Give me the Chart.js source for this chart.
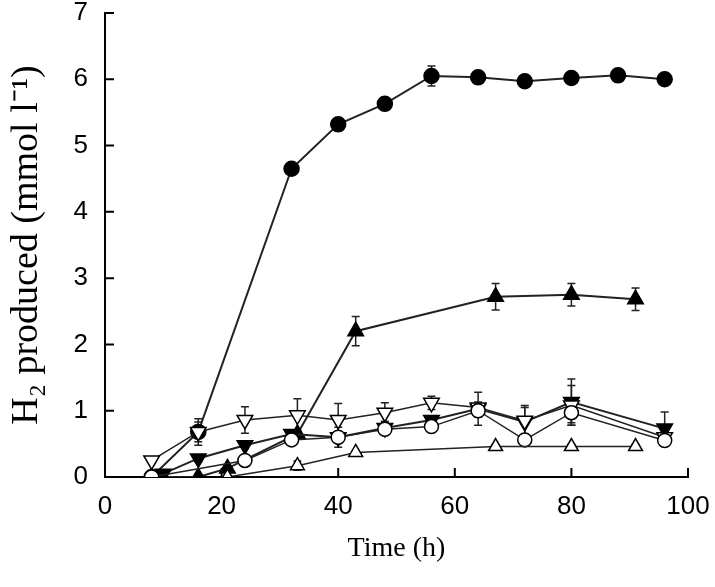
<!DOCTYPE html>
<html>
<head>
<meta charset="utf-8">
<script src="https://cdn.jsdelivr.net/npm/chart.js@4"></script>
<style>
  body { margin: 0; background: #fff; }
  #wrap { width: 715px; height: 587px; position: relative; }
</style>
</head>
<body>
<div id="wrap"><canvas id="h2Chart"></canvas></div>
<script>
// filled circles
var tCircle = [8, 16, 32, 40, 48, 56, 64, 72, 80, 88, 96];
var yCircle = [0, 0.68, 4.65, 5.32, 5.63, 6.05, 6.03, 5.97, 6.02, 6.06, 6.0];
var eCircle = [0, 0.15, 0.06, 0.06, 0.07, 0.15, 0.08, 0.05, 0.06, 0.1, 0.04];

// filled up triangles
var tTriUp = [8, 16, 21, 33, 43, 67, 80, 91];
var yTriUp = [0, 0, 0.13, 0.65, 2.2, 2.72, 2.75, 2.68];
var eTriUp = [0, 0, 0.03, 0.05, 0.22, 0.2, 0.17, 0.17];

// filled down triangles
var tTriDown = [10, 16, 24, 32, 40, 48, 56, 64, 72, 80, 96];
var yTriDown = [0.05, 0.28, 0.48, 0.65, 0.6, 0.74, 0.86, 1.03, 0.83, 1.13, 0.73];
var eTriDown = [0, 0.05, 0.05, 0.06, 0.15, 0.1, 0.06, 0.25, 0.25, 0.35, 0.25];

// open down triangles
var tOpenDown = [8, 16, 24, 33, 40, 48, 56, 64, 72, 80, 96];
var yOpenDown = [0.25, 0.68, 0.86, 0.93, 0.86, 0.97, 1.12, 1.05, 0.85, 1.08, 0.6];
var eOpenDown = [0, 0.2, 0.2, 0.25, 0.25, 0.15, 0.1, 0.08, 0.2, 0.3, 0.1];

// open circles
var tOpenCircle = [8, 24, 32, 40, 48, 56, 64, 72, 80, 96];
var yOpenCircle = [0, 0.25, 0.56, 0.6, 0.72, 0.76, 1.0, 0.56, 0.97, 0.55];
var eOpenCircle = [0, 0.03, 0.05, 0.05, 0.05, 0.05, 0.1, 0.05, 0.15, 0.05];

// open up triangles
var tOpenUp = [21, 33, 43, 67, 80, 91];
var yOpenUp = [0, 0.17, 0.37, 0.46, 0.46, 0.46];
var eOpenUp = [0, 0.07, 0.03, 0.03, 0.03, 0.03];

var xTicks = [0, 20, 40, 60, 80, 100];
var yTicks = [0, 1, 2, 3, 4, 5, 6, 7];

function pts(t, y) {
    return t.map(function(v, i) { return { x: v, y: y[i] }; });
}

function makeSet(t, y, e, style, rot, fill, radius, lw) {
    return {
        data: pts(t, y),
        errs: e,
        showLine: true,
        borderColor: '#222',
        borderWidth: lw,
        pointStyle: style,
        rotation: rot,
        pointRadius: radius,
        pointBackgroundColor: fill,
        pointBorderColor: '#000',
        pointBorderWidth: 1.5,
        tension: 0
    };
}

// error bars (under the markers) + inward ticks
var extras = {
    id: 'extras',
    beforeDatasetsDraw: function(chart) {
        var ctx = chart.ctx;
        var xs = chart.scales.x, ys = chart.scales.y;
        ctx.save();
        ctx.strokeStyle = '#222';
        ctx.lineWidth = 1.5;
        chart.data.datasets.forEach(function(ds) {
            ds.data.forEach(function(p, i) {
                var e = ds.errs[i];
                if (!e) return;
                var px = xs.getPixelForValue(p.x);
                var top = ys.getPixelForValue(p.y + e);
                var bot = ys.getPixelForValue(Math.max(0, p.y - e));
                ctx.beginPath();
                ctx.moveTo(px, top); ctx.lineTo(px, bot);
                ctx.moveTo(px - 4, top); ctx.lineTo(px + 4, top);
                ctx.moveTo(px - 4, bot); ctx.lineTo(px + 4, bot);
                ctx.stroke();
            });
        });
        ctx.restore();
    },
    afterDraw: function(chart) {
        var ctx = chart.ctx;
        var xs = chart.scales.x, ys = chart.scales.y;
        var area = chart.chartArea;
        ctx.save();
        ctx.strokeStyle = '#000';
        ctx.lineWidth = 2;
        ctx.beginPath();
        xTicks.forEach(function(v) {
            var px = xs.getPixelForValue(v);
            ctx.moveTo(px, area.bottom); ctx.lineTo(px, area.bottom - 9);
        });
        yTicks.forEach(function(v) {
            var py = ys.getPixelForValue(v);
            ctx.moveTo(area.left, py); ctx.lineTo(area.left + 9, py);
        });
        ctx.stroke();
        ctx.restore();
    }
};

var tickFont = { family: "'Liberation Sans', Arial", size: 26 };

new Chart(document.getElementById('h2Chart'), {
    type: 'scatter',
    data: {
        datasets: [
            makeSet(tOpenUp, yOpenUp, eOpenUp, 'triangle', 0, '#fff', 8, 1.5),
            makeSet(tOpenCircle, yOpenCircle, eOpenCircle, 'circle', 0, '#fff', 7, 1.5),
            makeSet(tOpenDown, yOpenDown, eOpenDown, 'triangle', 180, '#fff', 9, 1.5),
            makeSet(tTriDown, yTriDown, eTriDown, 'triangle', 180, '#000', 9, 2),
            makeSet(tTriUp, yTriUp, eTriUp, 'triangle', 0, '#000', 9, 2),
            makeSet(tCircle, yCircle, eCircle, 'circle', 0, '#000', 7.5, 2)
        ]
    },
    options: {
        responsive: true,
        maintainAspectRatio: false,
        animation: false,
        layout: { padding: { left: 0, top: 13, right: 27, bottom: 0 } },
        plugins: { legend: { display: false }, tooltip: { enabled: false } },
        scales: {
            x: {
                type: 'linear',
                min: 0, max: 100,
                afterFit: function(s) { s.height = 110; s.paddingLeft = 0; s.paddingRight = 0; },
                afterBuildTicks: function(s) { s.ticks = xTicks.map(function(v) { return { value: v }; }); },
                grid: { display: false },
                border: { display: true, color: '#000', width: 2 },
                ticks: { color: '#000', padding: 6, font: tickFont },
                title: {
                    display: true, text: 'Time (h)', color: '#000',
                    font: { family: 'Liberation Serif', size: 28 },
                    padding: { top: 0, bottom: 22 }
                }
            },
            y: {
                min: 0, max: 7,
                afterFit: function(s) { s.width = 105; s.paddingTop = 0; s.paddingBottom = 0; },
                afterBuildTicks: function(s) { s.ticks = yTicks.map(function(v) { return { value: v }; }); },
                grid: { display: false },
                border: { display: true, color: '#000', width: 2 },
                ticks: { color: '#000', padding: 9, font: tickFont },
                title: {
                    display: true, text: 'H\u2082 produced (mmol l\u207B\u00B9)', color: '#000',
                    font: { family: 'Liberation Serif', size: 38 },
                    padding: { top: 4, bottom: 0 }
                }
            }
        }
    },
    plugins: [extras]
});
</script>
</body>
</html>
